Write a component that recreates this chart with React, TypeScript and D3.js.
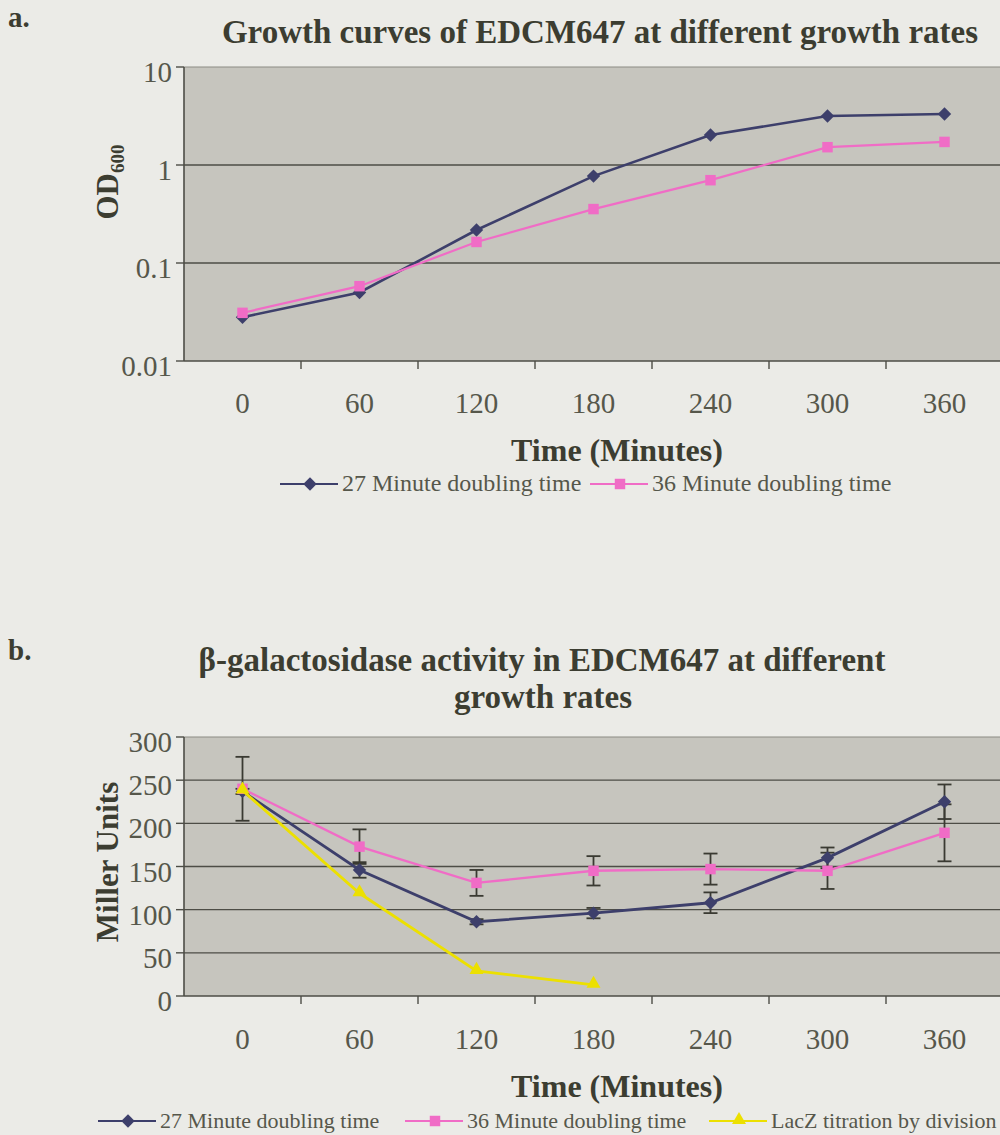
import React from 'react';
import * as d3 from 'd3';

// time points (minutes)
const times = ['0', '60', '120', '180', '240', '300', '360'];

// panel a: OD600 growth curves
const odFast = [0.028, 0.05, 0.217, 0.77, 2.02, 3.16, 3.31];
const odSlow = [0.031, 0.058, 0.164, 0.355, 0.7, 1.52, 1.72];
const odTicks = [0.01, 0.1, 1, 10];
const odTickLabels = ['0.01', '0.1', '1', '10'];

// panel b: beta-galactosidase activity (Miller units)
const millerFast = [237, 146, 86, 96, 108, 160, 225];
const millerFastErr = [3, 9, 3, 6, 12, 12, 20];
const millerSlow = [240, 173, 131, 145, 147, 145, 189];
const millerSlowErr = [37, 20, 15, 17, 18, 21, 33];
const lacZ = [238, 119, 29, 13];
const millerTicks = [0, 50, 100, 150, 200, 250, 300];

const NAVY = '#3d3f6b';
const PINK = '#f06cc6';
const YELLOW = '#ece000';
const PLOT_BG = '#c6c5be';
const PAGE_BG = '#ebebe7';
const GRID = '#4d4d46';
const TEXT_DARK = '#3c3d31';
const TEXT = '#56574b';
const FONT = '"Liberation Serif", "Times New Roman", serif';

const left = 184;
const right = 1003;

const x = d3.scaleBand().domain(times).range([left, right]);
const cx = (t: string) => (x(t) as number) + x.bandwidth() / 2;

const yA = d3.scaleLog().domain([0.01, 10]).range([361, 67]);
const yB = d3.scaleLinear().domain([0, 300]).range([996, 737]);

const diamond = d3.symbol(d3.symbolSquare, 90)();
const square = d3.symbol(d3.symbolSquare, 110)();
const triangle = d3.symbol(d3.symbolTriangle, 85)();

const Marker = ({ kind, px, py, color }: any) => {
  if (kind === 'diamond')
    return <path d={diamond as string} fill={color} transform={`translate(${px},${py}) rotate(45)`} />;
  if (kind === 'square') return <path d={square as string} fill={color} transform={`translate(${px},${py})`} />;
  return <path d={triangle as string} fill={color} transform={`translate(${px},${py - 1})`} />;
};

const Series = ({ values, y, color, kind, width }: any) => {
  const pts: [number, number][] = values.map((v: number, i: number) => [cx(times[i]), y(v)]);
  const line = d3.line();
  return (
    <g>
      <path d={line(pts) as string} fill="none" stroke={color} strokeWidth={width} />
      {pts.map((p, i) => (
        <Marker key={i} kind={kind} px={p[0]} py={p[1]} color={color} />
      ))}
    </g>
  );
};

const ErrorBars = ({ values, errs, y }: any) => (
  <g stroke="#3a3a32" strokeWidth={1.8}>
    {values.map((v: number, i: number) => {
      const px = cx(times[i]);
      const top = y(v + errs[i]);
      const bot = y(v - errs[i]);
      return (
        <g key={i}>
          <line x1={px} x2={px} y1={top} y2={bot} />
          <line x1={px - 7} x2={px + 7} y1={top} y2={top} />
          <line x1={px - 7} x2={px + 7} y1={bot} y2={bot} />
        </g>
      );
    })}
  </g>
);

const LegendItem = ({ x0, y0, color, kind, label, size }: any) => (
  <g>
    <line x1={x0} x2={x0 + 58} y1={y0} y2={y0} stroke={color} strokeWidth={2.2} />
    <Marker kind={kind} px={x0 + 30} py={y0} color={color} />
    <text x={x0 + 62} y={y0 + 7} fontSize={size} fill={TEXT}>
      {label}
    </text>
  </g>
);

const Axes = ({ y, ticks, labels, bottom, top, labelY }: any) => (
  <g>
    <rect x={left} y={top} width={right - left} height={bottom - top} fill={PLOT_BG} />
    <line x1={left} x2={right} y1={top} y2={top} stroke="#8c8c84" strokeWidth={1.2} />
    {ticks.slice(1, -1).map((t: number) => (
      <line key={t} x1={left} x2={right} y1={y(t)} y2={y(t)} stroke={GRID} strokeWidth={1.3} />
    ))}
    <line x1={left} x2={right} y1={bottom} y2={bottom} stroke={GRID} strokeWidth={1.6} />
    <line x1={left} x2={left} y1={top} y2={bottom} stroke={GRID} strokeWidth={1.6} />
    {ticks.map((t: number, i: number) => (
      <g key={t}>
        <line x1={left - 8} x2={left} y1={y(t)} y2={y(t)} stroke={GRID} strokeWidth={1.4} />
        <text x={left - 12} y={y(t) + 15} textAnchor="end" fontSize={29} fill={TEXT}>
          {labels[i]}
        </text>
      </g>
    ))}
    {times.slice(1).map((t) => (
      <line key={t} x1={x(t)} x2={x(t)} y1={bottom} y2={bottom + 8} stroke={GRID} strokeWidth={1.4} />
    ))}
    {times.map((t) => (
      <text key={t} x={cx(t)} y={labelY} textAnchor="middle" fontSize={29} fill={TEXT}>
        {t}
      </text>
    ))}
  </g>
);

export default function App() {
  return (
    <div style={{ position: 'absolute', left: 0, top: 0 }}>
      <svg width={1000} height={1135} fontFamily={FONT} style={{ display: 'block', background: PAGE_BG }}>
        {/* panel a */}
        <text x={8} y={27} fontSize={29} fontWeight="bold" fill={TEXT_DARK}>a.</text>
        <text x={600} y={43} textAnchor="middle" fontSize={33} fontWeight="bold" fill={TEXT_DARK}>
          Growth curves of EDCM647 at different growth rates
        </text>
        <Axes y={yA} ticks={odTicks} labels={odTickLabels} top={67} bottom={361} labelY={413} />
        <Series values={odFast} y={yA} color={NAVY} kind="diamond" width={2.6} />
        <Series values={odSlow} y={yA} color={PINK} kind="square" width={2.2} />
        <text transform="translate(118,182) rotate(-90)" textAnchor="middle" fontSize={31} fontWeight="bold" fill={TEXT_DARK}>
          OD<tspan fontSize={19} dy={6}>600</tspan>
        </text>
        <text x={617} y={461} textAnchor="middle" fontSize={32} fontWeight="bold" fill={TEXT_DARK}>
          Time (Minutes)
        </text>
        <LegendItem x0={280} y0={484} color={NAVY} kind="diamond" label="27 Minute doubling time" size={24} />
        <LegendItem x0={590} y0={484} color={PINK} kind="square" label="36 Minute doubling time" size={24} />

        {/* panel b */}
        <text x={8} y={660} fontSize={29} fontWeight="bold" fill={TEXT_DARK}>b.</text>
        <text x={542} y={671} textAnchor="middle" fontSize={33} fontWeight="bold" fill={TEXT_DARK}>
          β-galactosidase activity in EDCM647 at different
        </text>
        <text x={543} y={708} textAnchor="middle" fontSize={33} fontWeight="bold" fill={TEXT_DARK}>
          growth rates
        </text>
        <Axes y={yB} ticks={millerTicks} labels={millerTicks.map(String)} top={737} bottom={996} labelY={1049} />
        <ErrorBars values={millerFast} errs={millerFastErr} y={yB} />
        <ErrorBars values={millerSlow} errs={millerSlowErr} y={yB} />
        <Series values={millerFast} y={yB} color={NAVY} kind="diamond" width={2.8} />
        <Series values={millerSlow} y={yB} color={PINK} kind="square" width={2.4} />
        <Series values={lacZ} y={yB} color={YELLOW} kind="triangle" width={2.8} />
        <text transform="translate(118,862) rotate(-90)" textAnchor="middle" fontSize={31} fontWeight="bold" fill={TEXT_DARK}>
          Miller Units
        </text>
        <text x={617} y={1097} textAnchor="middle" fontSize={32} fontWeight="bold" fill={TEXT_DARK}>
          Time (Minutes)
        </text>
        <LegendItem x0={98} y0={1121} color={NAVY} kind="diamond" label="27 Minute doubling time" size={22} />
        <LegendItem x0={405} y0={1121} color={PINK} kind="square" label="36 Minute doubling time" size={22} />
        <LegendItem x0={709} y0={1121} color={YELLOW} kind="triangle" label="LacZ titration by division" size={22} />
      </svg>
    </div>
  );
}
